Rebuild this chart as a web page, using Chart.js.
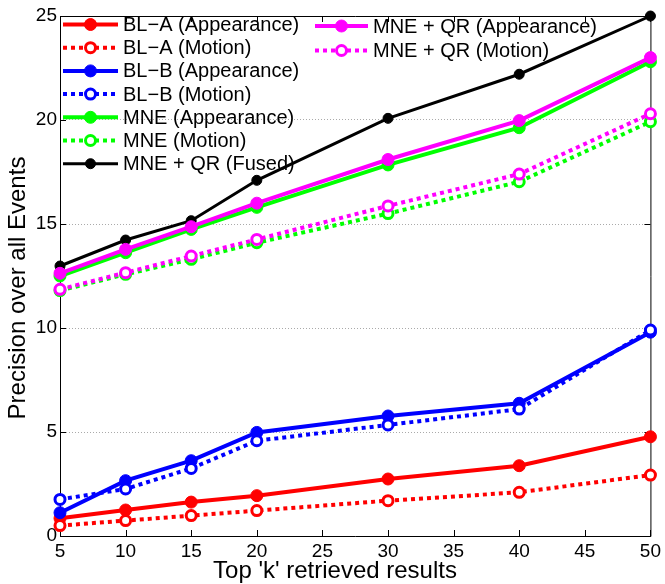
<!DOCTYPE html>
<html>
<head>
<meta charset="utf-8">
<script src="https://cdn.jsdelivr.net/npm/chart.js@4"></script>
<style>
html, body { margin: 0; padding: 0; background: #fff; }
</style>
</head>
<body>
<canvas id="myChart" width="665" height="584"></canvas>
<script>
// retrieved results (top k) and precision values
const topK = [5, 10, 15, 20, 30, 40, 50];
const yTicks = [0, 5, 10, 15, 20, 25];

const blaApp  = [0.85, 1.25, 1.63, 1.94, 2.74, 3.38, 4.77];
const blaMot  = [0.50, 0.74, 0.98, 1.22, 1.70, 2.10, 2.93];
const blbApp  = [1.12, 2.66, 3.62, 4.98, 5.77, 6.38, 9.80];
const blbMot  = [1.76, 2.26, 3.25, 4.58, 5.34, 6.10, 9.90];
const mneApp  = [12.50, 13.62, 14.74, 15.80, 17.84, 19.63, 22.80];
const mneMot  = [11.80, 12.58, 13.30, 14.10, 15.50, 17.03, 19.92];
const qrFused = [12.98, 14.23, 15.16, 17.10, 20.08, 22.20, 25.00];
const qrApp   = [12.63, 13.78, 14.87, 16.00, 18.10, 19.97, 23.00];
const qrMot   = [11.86, 12.66, 13.46, 14.26, 15.87, 17.40, 20.30];

const FONT = '"Liberation Sans", Arial, Helvetica, sans-serif';

function makeSet(label, vals, color, dotted, black) {
  return {
    label: label,
    data: vals.map((v, i) => ({ x: topK[i], y: v })),
    borderColor: color,
    borderWidth: black ? 3 : 4,
    borderDash: dotted ? [4, 4] : [],
    borderCapStyle: 'butt',
    pointRadius: black ? 5 : (dotted ? 5 : 6),
    pointBorderWidth: dotted ? 3 : 1,
    pointBackgroundColor: dotted ? '#ffffff' : color,
    pointBorderColor: color,
    fill: false,
    tension: 0,
    clip: false
  };
}

const sets = [
  makeSet('BL\u2212A (Appearance)', blaApp, '#ff0000', false),
  makeSet('BL\u2212A (Motion)', blaMot, '#ff0000', true),
  makeSet('BL\u2212B (Appearance)', blbApp, '#0000ff', false),
  makeSet('BL\u2212B (Motion)', blbMot, '#0000ff', true),
  makeSet('MNE (Appearance)', mneApp, '#00ff00', false),
  makeSet('MNE (Motion)', mneMot, '#00ff00', true),
  makeSet('MNE + QR (Fused)', qrFused, '#000000', false, true),
  makeSet('MNE + QR (Appearance)', qrApp, '#ff00ff', false),
  makeSet('MNE + QR (Motion)', qrMot, '#ff00ff', true)
];
// later series sit on top, like the original plot order
sets.forEach((s, i) => { s.order = -i; });

// box round the plot with inward tick marks
const framePlugin = {
  id: 'frame',
  beforeDatasetsDraw(chart) {
    const ctx = chart.ctx;
    const a = chart.chartArea;
    const xs = chart.scales.x, ys = chart.scales.y;
    ctx.save();
    ctx.strokeStyle = '#000';
    ctx.lineWidth = 1;
    ctx.beginPath();
    ctx.rect(a.left + 0.5, a.top + 0.5, a.right - a.left, a.bottom - a.top);
    for (let k = 5; k <= 50; k += 5) {
      const px = Math.round(xs.getPixelForValue(k)) + 0.5;
      ctx.moveTo(px, a.bottom); ctx.lineTo(px, a.bottom - 6);
      ctx.moveTo(px, a.top); ctx.lineTo(px, a.top + 6);
    }
    yTicks.forEach(v => {
      const py = Math.round(ys.getPixelForValue(v)) + 0.5;
      ctx.moveTo(a.left, py); ctx.lineTo(a.left + 6, py);
      ctx.moveTo(a.right, py); ctx.lineTo(a.right - 6, py);
    });
    ctx.stroke();
    ctx.restore();
  },
  afterDraw(chart) {
    const ctx = chart.ctx;
    ctx.save();
    ctx.fillStyle = '#000';
    ctx.font = '24px ' + FONT;
    ctx.textAlign = 'center';
    ctx.textBaseline = 'alphabetic';
    ctx.fillText("Top 'k' retrieved results", 335, 578);
    ctx.translate(25, 288);
    ctx.rotate(-Math.PI / 2);
    ctx.fillText('Precision over all Events', 0, 0);
    ctx.restore();
  }
};

// two column legend inside the plot, no box
const legendPlugin = {
  id: 'innerLegend',
  afterDatasetsDraw(chart) {
    const ctx = chart.ctx;
    ctx.save();
    chart.data.datasets.forEach((ds, i) => {
      const col = i < 7 ? 0 : 1;
      const row = col ? i - 7 : i;
      const x0 = col ? 315 : 63;
      const x1 = col ? 368 : 118;
      const y = (col ? 26 : 24.5) + row * (col ? 24.5 : 23.2);
      const mx = (x0 + x1) / 2;
      ctx.strokeStyle = ds.borderColor;
      ctx.lineWidth = ds.borderWidth;
      ctx.lineCap = 'butt';
      ctx.setLineDash(ds.borderDash);
      ctx.beginPath();
      ctx.moveTo(x0, y); ctx.lineTo(x1, y);
      ctx.stroke();
      ctx.setLineDash([]);
      ctx.beginPath();
      ctx.arc(mx, y, ds.pointRadius, 0, Math.PI * 2);
      ctx.fillStyle = ds.pointBackgroundColor;
      ctx.fill();
      ctx.lineWidth = ds.pointBorderWidth;
      ctx.stroke();
      ctx.fillStyle = '#000';
      ctx.font = '20px ' + FONT;
      ctx.textAlign = 'left';
      ctx.textBaseline = 'middle';
      ctx.fillText(ds.label, x1 + 5, y + 1);
    });
    ctx.restore();
  }
};

const ctx = document.getElementById('myChart');

new Chart(ctx, {
  type: 'line',
  data: { datasets: sets },
  plugins: [framePlugin, legendPlugin],
  options: {
    responsive: false,
    animation: false,
    devicePixelRatio: 1,
    layout: { padding: { left: 0, top: 16, right: 12, bottom: 0 } },
    plugins: {
      legend: { display: false },
      tooltip: { enabled: false }
    },
    scales: {
      x: {
        type: 'linear',
        min: 5,
        max: 50,
        afterFit: s => { s.height = 48; },
        ticks: {
          stepSize: 5,
          maxRotation: 0,
          padding: 4,
          color: '#000',
          font: { family: FONT, size: 19 }
        },
        grid: { display: false, drawTicks: false },
        border: { display: false }
      },
      y: {
        min: 0,
        max: 25,
        afterFit: s => { s.width = 60; },
        ticks: {
          stepSize: 5,
          padding: 3,
          color: '#000',
          font: { family: FONT, size: 19 }
        },
        grid: {
          drawTicks: false,
          lineWidth: 1,
          color: c => (c.tick && c.tick.value > 0 && c.tick.value < 25) ? '#aaaaaa' : 'rgba(0,0,0,0)'
        },
        border: { display: false, dash: [1, 2] }
      }
    }
  }
});
</script>
</body>
</html>
